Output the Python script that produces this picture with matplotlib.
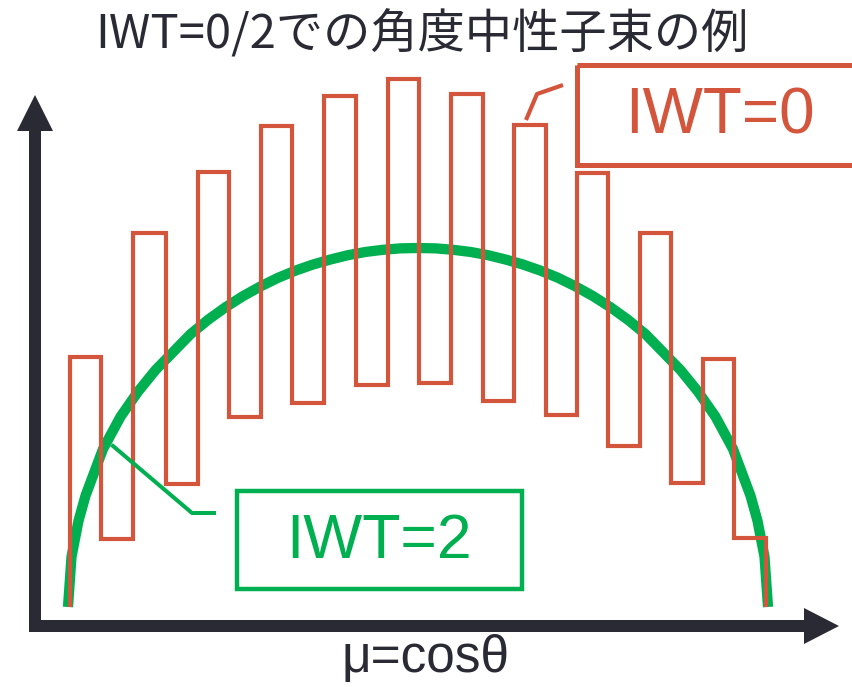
import numpy as np
import matplotlib
matplotlib.use('Agg')
import matplotlib.pyplot as plt
import matplotlib.patches as mpatches

# colours
RED = '#D3563C'
GREEN = '#00B050'
DARK = '#2A2A35'

'''Data'''
# IWT=0 : step function over mu (bin edges and level of each bin)
iwt0_edges = [-0.994, -0.906, -0.814, -0.720, -0.629, -0.540, -0.449, -0.360,
              -0.269, -0.177, -0.086, 0.003, 0.094, 0.186, 0.274, 0.366,
              0.454, 0.543, 0.634, 0.723, 0.814, 0.903, 0.994]
iwt0_values = [0.697, 0.190, 1.042, 0.342, 1.213, 0.529, 1.339, 0.569,
               1.423, 0.619, 1.471, 0.625, 1.429, 0.574, 1.342, 0.535,
               1.210, 0.448, 1.042, 0.345, 0.692, 0.193]

# IWT=2 : smooth angular flux
iwt2_mu = [-1.0, -0.99, -0.97, -0.95, -0.9, -0.85, -0.8, -0.75, -0.7, -0.65,
           -0.6, -0.55, -0.5, -0.45, -0.4, -0.35, -0.3, -0.25, -0.2, -0.15,
           -0.1, -0.05, 0.0, 0.05, 0.1, 0.15, 0.2, 0.25, 0.3, 0.35, 0.4,
           0.45, 0.5, 0.55, 0.6, 0.65, 0.7, 0.75, 0.8, 0.85, 0.9, 0.95,
           0.97, 0.99, 1.0]
iwt2_flux = [0.0, 0.14, 0.24, 0.31, 0.44, 0.53, 0.60, 0.66, 0.71, 0.76,
             0.80, 0.835, 0.866, 0.893, 0.917, 0.937, 0.954, 0.968, 0.98, 0.989,
             0.995, 0.999, 1.0, 0.999, 0.995, 0.989, 0.98, 0.968, 0.954, 0.937, 0.917,
             0.893, 0.866, 0.835, 0.80, 0.76, 0.71, 0.66, 0.60, 0.53, 0.44, 0.31,
             0.24, 0.14, 0.0]

title = 'IWT=0/2での角度中性子束の例'
xlabel = 'μ=cosθ'

W, H = 853, 687
fig = plt.figure(figsize=(W / 100, H / 100), dpi=100)

# data axes: mu=-1..1 -> x 68..768 px, flux 0..1 -> y 607..248 px
x0, sx = 418, 350
y0, sy = 607, 359
ax = fig.add_axes([0, 0, 1, 1])
ax.set_xlim(-x0 / sx, (W - x0) / sx)
ax.set_ylim(-(H - y0) / sy, y0 / sy)
ax.axis('off')

ax.plot(iwt2_mu, iwt2_flux, color=GREEN, lw=7.4, solid_capstyle='butt', zorder=2)
ax.stairs(iwt0_values, iwt0_edges, baseline=0, color=RED, lw=3.0, zorder=3)

# overlay axes in pixel coordinates for axes arrows, boxes, labels
ov = fig.add_axes([0, 0, 1, 1], facecolor='none')
ov.set_xlim(0, W)
ov.set_ylim(H, 0)
ov.axis('off')

ov.add_patch(mpatches.FancyArrow(35, 632, 0, -537, width=12, head_width=36,
                                 head_length=36, length_includes_head=True,
                                 color=DARK, lw=0, zorder=4))
ov.add_patch(mpatches.FancyArrow(29, 626, 810, 0, width=12, head_width=36,
                                 head_length=35, length_includes_head=True,
                                 color=DARK, lw=0, zorder=4))

# IWT=0 label box
ov.add_patch(mpatches.Rectangle((577, 65), 320, 100, fill=False, ec=RED, lw=3.6,
                                zorder=5))
ov.text(720, 117, 'IWT=0', color=RED, fontsize=46, family='Liberation Sans',
        ha='center', va='center', zorder=6)
ov.plot([526, 537, 563], [120, 94, 85], color=RED, lw=3, solid_capstyle='butt',
        zorder=5)

# IWT=2 label box
ov.add_patch(mpatches.Rectangle((237, 491), 285, 98, fill=False, ec=GREEN, lw=3.2,
                                zorder=5))
ov.text(379, 541, 'IWT=2', color=GREEN, fontsize=45, family='Liberation Sans',
        ha='center', va='center', zorder=6)
ov.plot([113, 192, 214], [446, 513, 513], color=GREEN, lw=2.9, zorder=5)

ov.text(422, 35, title, color=DARK, fontsize=34,
        family=['Noto Sans CJK JP', 'DejaVu Sans'], ha='center', va='center')
ov.text(426, 683, xlabel, color=DARK, fontsize=37, family='Liberation Sans',
        ha='center', va='bottom')

fig.savefig('out.png', dpi=100)
